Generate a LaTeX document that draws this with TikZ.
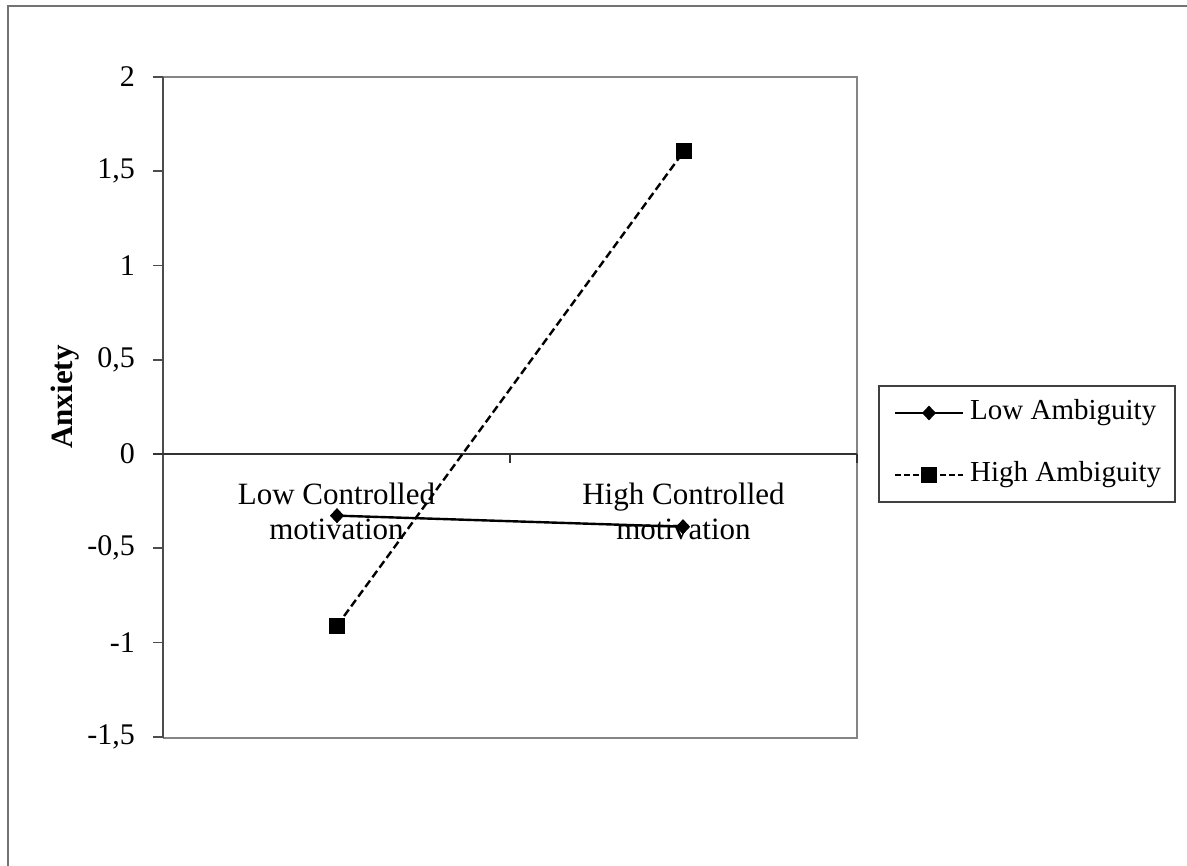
\documentclass[tikz,border=0pt]{standalone}
\usepackage{fontspec}
\setmainfont{Liberation Serif}
\usetikzlibrary{shapes.geometric}
\tikzset{
  framegrey/.style={draw=black!48, line width=2.6pt},
  axisdark/.style={draw=black!70, line width=1.6pt},
  ticklab/.style={anchor=east, inner sep=0pt, font=\fontsize{30}{36}\selectfont},
  catlab/.style={align=center, inner sep=0pt, font=\fontsize{31}{35}\selectfont},
  leglab/.style={anchor=west, inner sep=0pt, font=\fontsize{29}{34}\selectfont},
  lowline/.style={draw=black, line width=2.4pt},
  highline/.style={draw=black, line width=2.4pt, dash pattern=on 8pt off 4pt},
  lowmark/.style={diamond, fill=black, inner sep=0pt, minimum width=14pt, minimum height=15pt},
  highmark/.style={rectangle, fill=black, inner sep=0pt, minimum size=16pt}
}
\begin{document}
\begin{tikzpicture}[x=1pt,y=-1pt]
\useasboundingbox (0,0) rectangle (1187,866);
% outer chart frame (right and bottom edges lie outside)
\draw[draw=black!55, line width=2pt] (8,880) -- (8,6) -- (1200,6);
% plot area
\draw[framegrey] (163,77) -- (857,77) -- (857,738) -- (163,738);
\draw[axisdark] (163,738) -- (163,77);
% y ticks and labels
\foreach \v/\t in {2/2,1.5/{1,5},1/1,0.5/{0,5},0/0,-0.5/{-0,5},-1/-1,-1.5/{-1,5}}{
  \draw[axisdark] (153,{454-188.5*\v}) -- (163,{454-188.5*\v});
  \node[ticklab] at (135,{454-188.5*\v}) {\t};
}
% zero line with category ticks
\draw[draw=black!80, line width=1.5pt] (153,454) -- (857,454);
\draw[draw=black!80, line width=1.5pt] (510,454) -- (510,463);
\draw[draw=black!80, line width=1.5pt] (857,454) -- (857,463);
% axis title
\node[rotate=90, font=\bfseries\fontsize{31}{36}\selectfont, inner sep=0pt] (ytitle) at (65,397) {Anxiety};
% category labels
\node[catlab] (cat1) at (336.5,511) {Low Controlled\\motivation};
\node[catlab] (cat2) at (683.5,511) {High Controlled\\motivation};
% data points
\node[lowmark] (l1) at (337,{454-188.5*(-0.327)}) {};
\node[lowmark] (l2) at (683,{454-188.5*(-0.386)}) {};
\node[highmark] (h1) at (337,{454-188.5*(-0.911)}) {};
\node[highmark] (h2) at (684,{454-188.5*(1.607)}) {};
\draw[lowline] (l1.center) -- (l2.center);
\draw[highline] (h1.center) -- (h2.center);
\node[lowmark] at (l1) {};
\node[lowmark] at (l2) {};
\node[highmark] at (h1) {};
\node[highmark] at (h2) {};
% legend
\node[draw=black!75, line width=1.5pt, minimum width=296pt, minimum height=116pt, inner sep=0pt] (legend) at (1027,444) {};
\coordinate (la) at (895,413);
\coordinate (lb) at (963,413);
\draw[lowline] (la) -- (lb);
\node[lowmark] (lm) at (929,413) {};
\node[leglab] (lt) at (970,413) {Low Ambiguity};
\coordinate (ha) at (895,475);
\coordinate (hb) at (963,475);
\draw[highline, dash pattern=on 6pt off 3pt] (ha) -- (hb);
\node[highmark] (hm) at (929,475) {};
\node[leglab] (ht) at (970,475) {High Ambiguity};
\end{tikzpicture}
\end{document}
